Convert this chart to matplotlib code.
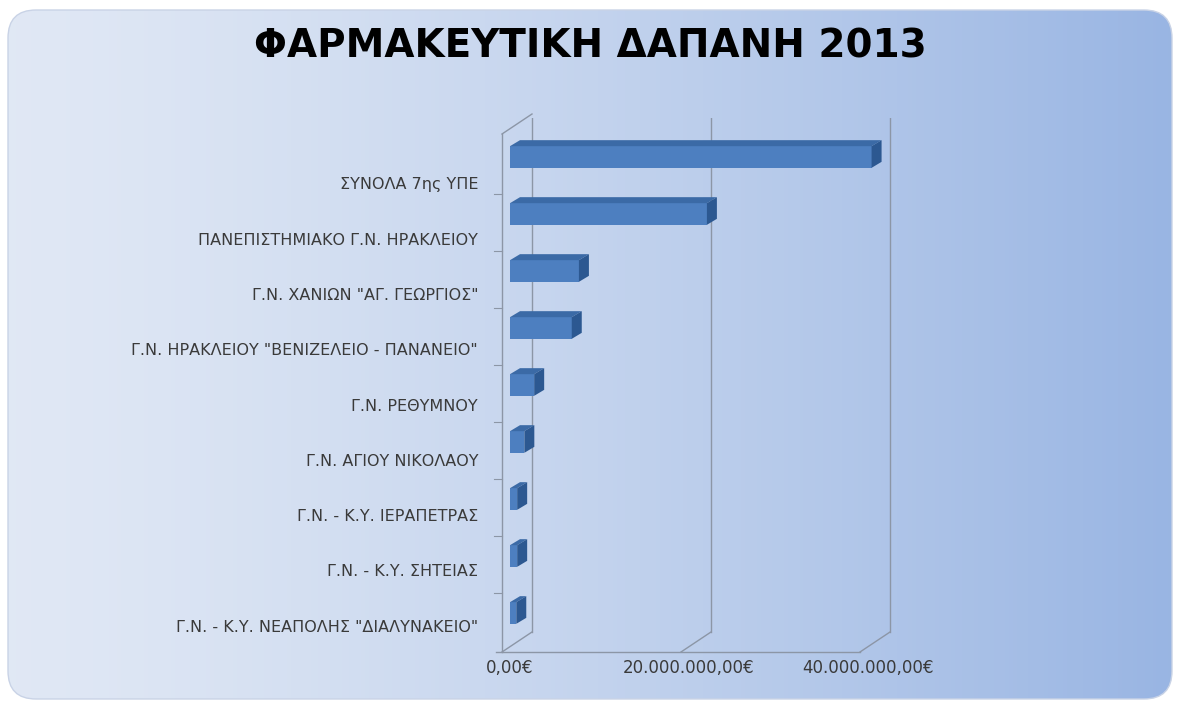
import numpy as np
import matplotlib.pyplot as plt
from matplotlib.patches import FancyBboxPatch, Polygon
from matplotlib.transforms import blended_transform_factory

# hospitals / pharmaceutical spending 2013 (euro)
hospitals = [
    'ΣΥΝΟΛΑ 7ης ΥΠΕ',
    'ΠΑΝΕΠΙΣΤΗΜΙΑΚΟ Γ.Ν. ΗΡΑΚΛΕΙΟΥ',
    'Γ.Ν. ΧΑΝΙΩΝ "ΑΓ. ΓΕΩΡΓΙΟΣ"',
    'Γ.Ν. ΗΡΑΚΛΕΙΟΥ "ΒΕΝΙΖΕΛΕΙΟ - ΠΑΝΑΝΕΙΟ"',
    'Γ.Ν. ΡΕΘΥΜΝΟΥ',
    'Γ.Ν. ΑΓΙΟΥ ΝΙΚΟΛΑΟΥ',
    'Γ.Ν. - Κ.Υ. ΙΕΡΑΠΕΤΡΑΣ',
    'Γ.Ν. - Κ.Υ. ΣΗΤΕΙΑΣ',
    'Γ.Ν. - Κ.Υ. ΝΕΑΠΟΛΗΣ "ΔΙΑΛΥΝΑΚΕΙΟ"',
]
spending = [40.4e6, 22.0e6, 7.7e6, 6.9e6, 2.7e6, 1.6e6, 0.8e6, 0.8e6, 0.7e6]
ticks = [0, 20e6, 40e6]
tick_labels = ['0,00€', '20.000.000,00€', '40.000.000,00€']

W, H = 1180, 707
fig = plt.figure(figsize=(W / 100, H / 100), dpi=100)

# background panel with gradient and rounded corners
bg = fig.add_axes([0, 0, 1, 1])
bg.set_xlim(0, W)
bg.set_ylim(H, 0)
bg.axis('off')
panel = FancyBboxPatch((8, 10), W - 16, H - 18, boxstyle='round,pad=0,rounding_size=28',
                       facecolor='none', edgecolor='#c9d3e6', lw=1.0)
bg.add_patch(panel)
c0 = np.array([0.88, 0.91, 0.96])
c1 = np.array([0.60, 0.71, 0.89])
t = np.linspace(0, 1, 300) ** 1.3
grad = (c0[None, :] * (1 - t[:, None]) + c1[None, :] * t[:, None])[None, :, :]
grad = np.repeat(grad, 2, axis=0)
im = bg.imshow(grad, extent=(8, W - 8, H - 8, 10), aspect='auto', zorder=0)
im.set_clip_path(panel)

bg.text(W / 2, 46, 'ΦΑΡΜΑΚΕΥΤΙΚΗ ΔΑΠΑΝΗ 2013', ha='center', va='center',
        fontsize=28, fontweight='bold', color='black')

# main plot area
x0_px, x1_px = 510, 892
y0_px, y1_px = 118, 652
ax = fig.add_axes([x0_px / W, 1 - y1_px / H, (x1_px - x0_px) / W, (y1_px - y0_px) / H])
ax.patch.set_alpha(0)
px_per_val = 358 / 40e6
ax.set_xlim(0, (x1_px - x0_px) / px_per_val)
ypx = 57.0
ax.set_ylim(8 + (y1_px - 613) / ypx, (y0_px - 157) / ypx)
for s in ax.spines.values():
    s.set_visible(False)

ybot = ax.get_ylim()[0]
ytop_front = (134 - 157) / ypx
wdx = 22 / px_per_val
wdy = 20 / ypx
wall = '#8c96a6'

# back wall gridlines + floor diagonals
for tv in ticks:
    ax.plot([tv + wdx, tv + wdx], [ybot - wdy, ytop_front - wdy], color=wall, lw=1.0, zorder=1)
    ax.plot([tv - 8 / px_per_val, tv + wdx], [ybot, ybot - wdy], color=wall, lw=1.0, zorder=1,
            clip_on=False)
# left wall
lx = -8 / px_per_val
ax.plot([lx, lx], [ybot, ytop_front], color=wall, lw=1.0, zorder=1, clip_on=False)
ax.plot([lx, lx + wdx + 8 / px_per_val], [ytop_front, ytop_front - wdy], color=wall, lw=1.0,
        zorder=1, clip_on=False)
ax.plot([lx - 6 / px_per_val, ticks[-1] - 8 / px_per_val], [ybot, ybot], color=wall, lw=1.0,
        zorder=1, clip_on=False)
for k in range(1, len(hospitals)):
    ax.plot([lx - 8 / px_per_val, lx], [k - 0.5 + 0.15, k - 0.5 + 0.15],
            color=wall, lw=0.8, clip_on=False)

# 3D-looking bars
pos = np.arange(len(hospitals))
bh = 0.38
bdx = 10 / px_per_val
bdy = 6 / ypx
ax.barh(pos, spending, height=bh, color='#4d7fc0', edgecolor='none', zorder=3)
for y, v in zip(pos, spending):
    top = y - bh / 2
    ax.add_patch(Polygon([(0, top), (v, top), (v + bdx, top - bdy), (bdx, top - bdy)],
                         closed=True, facecolor='#3b6aa6', edgecolor='none', zorder=3))
    ax.add_patch(Polygon([(v, top), (v + bdx, top - bdy), (v + bdx, y + bh / 2 - bdy),
                          (v, y + bh / 2)],
                         closed=True, facecolor='#2c5891', edgecolor='none', zorder=3))

# category labels
ax.set_yticks([])
trans = blended_transform_factory(fig.transFigure, ax.transData)
for i, name in enumerate(hospitals):
    ax.text(478 / W, i * 0.97 + 0.49, name, transform=trans, ha='right', va='center',
            fontsize=11.5, color='#3a3a3a')

ax.set_xticks(ticks)
ax.set_xticklabels(tick_labels, fontsize=12, color='#3a3a3a')
ax.tick_params(axis='x', length=0, pad=5)

fig.savefig('out.png', dpi=100)
